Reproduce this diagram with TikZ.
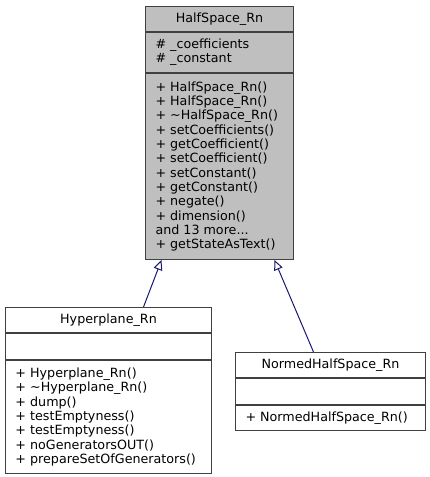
\documentclass[tikz,border=0pt]{standalone}
\usepackage{fontspec}
\setmainfont{DejaVu Sans}
\usetikzlibrary{arrows.meta, positioning}
\definecolor{edgeBlue}{HTML}{191970}
\definecolor{classGray}{HTML}{BFBFBF}
\def\nameH{25pt}
\def\emptyH{26pt}

\begin{document}
\begin{tikzpicture}[
    x=1pt, y=-1pt,
    line width=1pt,
    >={Triangle[open, length=10pt, width=9pt]},
    every node/.style={font=\fontsize{12.7}{14.3}\selectfont, draw=black!75, inner sep=0pt},
    classname/.style={minimum height=\nameH, anchor=north west},
    classbody/.style={align=flush left, inner xsep=10pt}
]
\useasboundingbox (0,0) rectangle (429,477);

% base class
\node[classname, fill=classGray, minimum width=148pt] (halfName) at (145,6) {HalfSpace\_Rn};
\node[classbody, fill=classGray, text width=128pt, minimum height=40pt, below=0pt of halfName] (halfAttr)
    {\# \_coefficients\\\# \_constant};
\node[classbody, fill=classGray, text width=128pt, minimum height=186pt, below=0pt of halfAttr] (halfMethods)
    {+ HalfSpace\_Rn()\\+ HalfSpace\_Rn()\\+ \textasciitilde HalfSpace\_Rn()\\+ setCoefficients()\\
     + getCoefficient()\\+ setCoefficient()\\+ setConstant()\\+ getConstant()\\+ negate()\\
     + dimension()\\and 13 more...\\+ getStateAsText()};

% derived classes
\node[classname, minimum width=206pt] (hyperName) at (5,307) {Hyperplane\_Rn};
\node[classbody, text width=186pt, minimum height=\emptyH, below=0pt of hyperName] (hyperAttr) {};
\node[classbody, text width=186pt, minimum height=113pt, below=0pt of hyperAttr] (hyperMethods)
    {+ Hyperplane\_Rn()\\+ \textasciitilde Hyperplane\_Rn()\\+ dump()\\+ testEmptyness()\\
     + testEmptyness()\\+ noGeneratorsOUT()\\+ prepareSetOfGenerators()};

\node[classname, minimum width=190pt] (normedName) at (235,352) {NormedHalfSpace\_Rn};
\node[classbody, text width=170pt, minimum height=\emptyH, below=0pt of normedName] (normedAttr) {};
\node[classbody, text width=170pt, minimum height=25pt, below=0pt of normedAttr] (normedMethods)
    {+ NormedHalfSpace\_Rn()};

% inheritance
\draw[->, edgeBlue] ([xshift=35pt]hyperName.north) -- ([xshift=-58pt]halfMethods.south);
\draw[->, edgeBlue] ([xshift=-17pt]normedName.north) -- ([xshift=55pt]halfMethods.south);
\end{tikzpicture}
\end{document}
